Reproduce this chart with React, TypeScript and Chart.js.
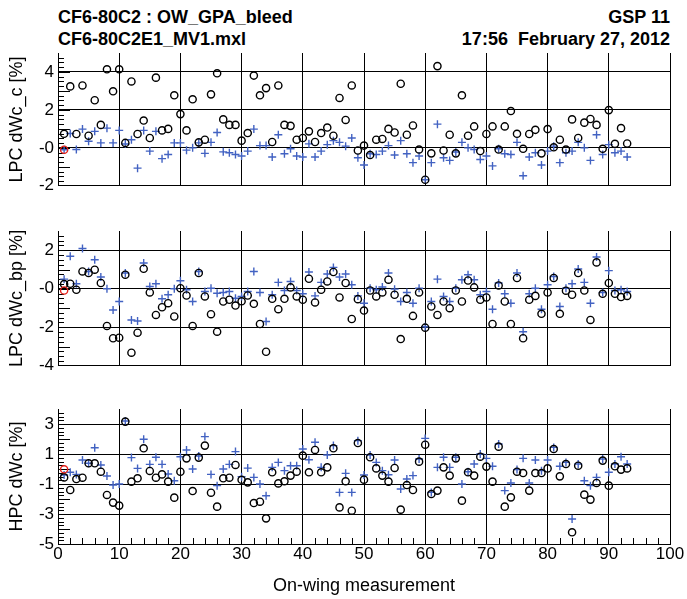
import React, { useEffect, useRef } from 'react';
import { Chart, registerables } from 'chart.js';

Chart.register(...registerables);

const FONT = '"Liberation Sans", Arial, Helvetica, sans-serif';

// ---- data (index i -> measurement i+1) ----
const lpcC_circles = [
  0.74, 3.24, 0.73, 3.29, 0.64, 2.51, 1.21, 4.14, 2.98, 4.14,
  0.26, 3.5, 0.73, 1.44, 0.52, 3.7, 0.92, 1.0, 2.77, 1.78,
  0.92, 2.56, 0.29, 0.43, 2.82, 3.93, 1.5, 1.21, 1.21, 0.38,
  0.78, 3.81, 2.77, 3.15, 0.31, 3.29, 1.21, 1.16, 0.43, 0.52,
  0.87, 0.31, 0.78, 1.07, 0.64, 2.63, 1.47, 3.29, -0.14, 0.12,
  -0.38, 0.43, 0.47, 1.0, 0.81, 3.38, 0.69, 1.18, -0.09, -1.68,
  -0.29, 4.31, -0.14, 0.69, -0.29, 2.77, 0.64, 1.13, -0.17, 0.73,
  1.13, -0.09, 1.13, 1.94, 0.74, -0.05, 0.73, 0.95, -0.29, 0.99,
  0.03, 0.43, -0.09, 1.5, 0.52, 1.33, 1.52, 1.21, -0.05, 1.99,
  0.21, 1.04, 0.23,
];
const lpcC_crosses = [
  -0.1, 0.76, -0.09, 0.99, 0.35, 0.87, 0.26, 1.04, 0.26, 0.92,
  0.2, 0.43, -1.07, 0.92, -0.17, 0.87, -0.57, -0.35, 0.26, 0.26,
  -0.12, 0.0, 0.26, -0.29, 0.29, 0.81, -0.21, -0.26, -0.35, -0.43,
  -0.17, 0.99, 0.12, 0.12, -0.48, 0.69, -0.31, -0.05, -0.43, -0.48,
  0.21, -0.48, -0.17, 0.17, 0.38, 0.29, 0.09, 0.52, -0.52, -0.9,
  -0.31, -0.35, -0.17, 0.12, -0.38, 0.38, -0.31, -0.78, -0.43, -1.68,
  -0.78, 1.25, -0.52, -0.66, -0.22, 0.29, 0.0, -0.09, -0.61, -0.43,
  -0.95, -0.05, -0.31, -0.35, 0.29, -1.47, -0.48, -0.26, -0.9, -0.17,
  0.09, -0.78, -0.26, -0.17, 0.29, 0.0, -0.66, 0.69, -0.35, 0.17,
  -0.26, -0.17, -0.48,
];
const lpcBp_circles = [
  0.24, 0.26, -0.05, 0.9, 0.82, 0.99, 0.3, -1.93, -2.57, -2.54,
  0.73, -3.32, -2.28, 1.04, -0.19, -1.36, -0.96, -0.75, -1.44, 0.03,
  -0.35, -1.93, 0.82, -0.4, -1.32, -2.23, -0.66, -0.57, -0.87, -0.65,
  -0.35, -0.78, -1.83, -3.27, -0.52, -1.06, -0.52, 0.07, -0.4, -0.57,
  0.52, -0.71, -0.05, 0.38, 0.87, -0.45, 0.3, -1.57, -0.54, -1.13,
  -0.09, -0.4, -0.19, 0.47, -0.31, -2.61, -0.52, -1.41, -0.19, -2.02,
  -0.92, -1.36, -0.66, -1.01, -0.09, -0.66, 0.43, 0.07, -0.57, -0.45,
  -1.83, 0.17, -0.66, -1.83, 0.56, -2.57, -0.57, -0.37, -1.3, -0.19,
  0.56, -1.3, -0.1, -0.31, 0.82, -0.09, -1.62, 1.37, -0.26, 0.3,
  -0.26, -0.43, -0.37,
];
const lpcBp_crosses = [
  0.5, 1.69, 0.26, 2.09, 0.9, 1.51, 0.61, 0.0, -1.1, -0.66,
  0.82, -1.62, -1.67, 1.34, 0.12, 0.26, -0.52, -0.31, 0.0, 0.42,
  -0.05, -0.66, 0.9, -0.14, 0.03, -0.23, -0.19, -0.14, -0.49, -0.4,
  -0.14, 0.9, -0.19, -1.7, -0.31, 0.33, -0.09, 0.38, -0.09, -0.26,
  0.87, -0.37, 0.33, 0.77, 1.11, 0.61, 0.77, 0.21, -0.37, -0.75,
  0.03, -0.05, 0.09, 0.82, -0.02, -0.66, -0.19, -0.75, 0.03, -1.97,
  -0.66, 0.5, -0.4, -0.66, 0.03, 0.47, 0.73, 0.47, -0.31, -0.14,
  -1.06, 0.3, -0.26, -0.75, 0.82, -2.23, -0.26, 0.03, -1.06, 0.21,
  0.64, -0.92, 0.03, 0.26, 1.03, 0.33, -0.75, 1.65, -0.19, 0.94,
  -0.09, -0.05, -0.14,
];
const hpc_circles = [
  -0.56, -1.4, -0.67, -0.58, 0.38, 0.38, -0.18, -1.73, -2.24, -2.44,
  3.16, -0.84, -0.62, 1.38, -0.13, -0.58, -0.36, -0.84, -1.91, -0.18,
  0.71, -1.47, 0.76, 1.56, -1.58, -2.51, -0.62, -0.58, 0.27, -0.72,
  -0.89, -2.27, -2.18, -3.29, -0.22, -0.96, -0.82, -0.44, -0.18, 0.89,
  -0.22, 1.27, -0.22, 0.11, 1.38, -2.56, -0.82, -2.78, 1.73, -0.71,
  0.78, 0.04, -0.44, -0.84, 0.07, -2.71, -1.07, -1.4, 0.49, 1.62,
  -1.67, -1.44, 0.11, -0.44, 0.71, -2.11, -0.22, -0.44, 0.82, 0.16,
  -0.84, 1.49, -2.51, -1.89, -0.18, -0.27, -1.44, -0.27, -0.27, 0.04,
  1.33, -0.49, 0.33, -4.22, 0.22, -1.71, -2.04, -0.93, 0.56, -1.11,
  0.18, -0.04, 0.04,
];
const hpc_crosses = [
  -0.4, -0.22, -0.36, 0.6, 0.38, 1.42, 0.27, -0.47, -1.07, -1.0,
  3.2, 0.76, 0.04, 1.98, 0.31, 0.78, 0.31, -0.33, -0.78, 0.82,
  1.27, 0.0, 0.87, 2.16, -0.36, -1.11, 0.0, 0.31, 1.16, -0.51,
  0.06, -0.56, -1.0, -1.78, 0.11, 0.44, -0.11, 0.22, 0.22, 1.33,
  0.62, 1.78, 0.11, 0.93, 1.56, -1.56, -0.29, -1.56, 1.89, -0.4,
  0.93, 0.44, -0.11, -0.38, 0.6, -1.33, -0.67, -0.44, 0.67, 2.04,
  -1.56, 0.11, 0.78, 0.11, 0.78, -1.0, -0.18, 0.33, 1.0, 0.71,
  0.18, 1.67, -1.44, -0.93, -0.04, 0.71, -0.93, 0.6, -0.11, 0.6,
  1.44, 0.18, 0.44, -3.33, 0.33, -0.78, -1.11, -0.56, 0.67, -0.22,
  0.33, 0.82, 0.33,
];
// reference (first) measurement, drawn in red
const refX = 1;
const lpcC_ref = -0.1;
const lpcBp_ref = -0.09;
const hpc_ref = -0.02;

const xTicks = [0, 10, 20, 30, 40, 50, 60, 70, 80, 90, 100];
const lpcC_yTicks = [-2, 0, 2, 4];
const lpcBp_yTicks = [-4, -2, 0, 2];
const hpc_yTicks = [-5, -3, -1, 1, 3];

const headerLeft1 = 'CF6-80C2 : OW_GPA_bleed';
const headerLeft2 = 'CF6-80C2E1_MV1.mxl';
const headerRight1 = 'GSP 11';
const headerRight2 = '17:56  February 27, 2012';
const xTitle = 'On-wing measurement';

type Panel = {
  title: string;
  circles: number[];
  crosses: number[];
  ref: number;
  yMin: number;
  yMax: number;
  yTicks: number[];
  top: number;
  height: number;
  padTop: number;
  padBottom: number;
  xAxisHeight: number;
  showX: boolean;
};

const panels: Panel[] = [
  { title: 'LPC dWc_c [%]', circles: lpcC_circles, crosses: lpcC_crosses, ref: lpcC_ref,
    yMin: -2, yMax: 5, yTicks: lpcC_yTicks, top: 0, height: 200, padTop: 53, padBottom: 12, xAxisHeight: 0, showX: false },
  { title: 'LPC dWc_bp [%]', circles: lpcBp_circles, crosses: lpcBp_crosses, ref: lpcBp_ref,
    yMin: -4, yMax: 3, yTicks: lpcBp_yTicks, top: 200, height: 180, padTop: 31, padBottom: 14, xAxisHeight: 0, showX: false },
  { title: 'HPC dWc [%]', circles: hpc_circles, crosses: hpc_crosses, ref: hpc_ref,
    yMin: -5, yMax: 4, yTicks: hpc_yTicks, top: 380, height: 219, padTop: 29, padBottom: 0, xAxisHeight: 55, showX: true },
];

const minorTicksPlugin = {
  id: 'rootMinorTicks',
  beforeDatasetsDraw(chart: any, _args: any, opts: any) {
    const { ctx, chartArea } = chart;
    const y = chart.scales.y;
    const x = chart.scales.x;
    ctx.save();
    ctx.strokeStyle = '#000';
    ctx.lineWidth = 1;
    ctx.beginPath();
    const step = 0.25;
    const n = Math.round((y.max - y.min) / step);
    for (let i = 1; i < n; i++) {
      const v = y.min + i * step;
      const py = Math.round(y.getPixelForValue(v)) + 0.5;
      const isInt = Math.abs(v - Math.round(v)) < 1e-6;
      const len = isInt ? 12 : 6;
      ctx.moveTo(chartArea.left, py);
      ctx.lineTo(chartArea.left + len, py);
    }
    if (opts && opts.xTicks) {
      for (let v = 2; v < 100; v += 2) {
        if (v % 10 === 0) continue;
        const px = Math.round(x.getPixelForValue(v)) + 0.5;
        ctx.moveTo(px, chartArea.bottom);
        ctx.lineTo(px, chartArea.bottom - 6);
      }
    }
    ctx.stroke();
    ctx.restore();
  },
};

function buildConfig(p: Panel): any {
  const pts = (arr: number[]) => arr.map((v, i) => ({ x: i + 1, y: v }));
  return {
    type: 'scatter',
    data: {
      datasets: [
        {
          label: 'reference',
          data: [{ x: refX, y: p.ref }],
          pointStyle: 'circle',
          pointRadius: 3.6,
          borderWidth: 1.4,
          borderColor: '#e8231c',
          backgroundColor: 'rgba(0,0,0,0)',
          order: 0,
        },
        {
          label: 'circles',
          data: pts(p.circles),
          pointStyle: 'circle',
          pointRadius: 3.6,
          borderWidth: 1.4,
          borderColor: '#000000',
          backgroundColor: 'rgba(0,0,0,0)',
          order: 1,
        },
        {
          label: 'crosses',
          data: pts(p.crosses),
          pointStyle: 'cross',
          pointRadius: 4,
          borderWidth: 1.4,
          borderColor: '#4262c2',
          backgroundColor: '#4262c2',
          order: 2,
        },
      ],
    },
    options: {
      animation: false,
      responsive: false,
      devicePixelRatio: 1,
      events: [],
      layout: { padding: { top: p.padTop, bottom: p.padBottom, left: 0, right: 17 } },
      plugins: {
        legend: { display: false },
        tooltip: { enabled: false },
        rootMinorTicks: { xTicks: p.showX },
      },
      scales: {
        x: {
          type: 'linear',
          min: 0,
          max: 100,
          afterBuildTicks: (s: any) => { s.ticks = xTicks.map((v) => ({ value: v })); },
          afterFit: (s: any) => { s.height = p.xAxisHeight; },
          grid: { color: '#000', lineWidth: 1, drawTicks: false },
          border: { display: true, color: '#000', width: 1 },
          ticks: {
            display: p.showX,
            padding: 0,
            autoSkip: false,
            maxRotation: 0,
            color: '#000',
            font: { family: FONT, size: 17 },
          },
          title: {
            display: p.showX,
            text: xTitle,
            color: '#000',
            font: { family: FONT, size: 18 },
            padding: { top: 0, bottom: 2 },
          },
        },
        y: {
          type: 'linear',
          min: p.yMin,
          max: p.yMax,
          afterBuildTicks: (s: any) => { s.ticks = p.yTicks.map((v) => ({ value: v })); },
          afterFit: (s: any) => { s.width = 58; },
          grid: { color: '#000', lineWidth: 1, drawTicks: false },
          border: { display: true, color: '#000', width: 1 },
          ticks: {
            padding: 4,
            color: '#000',
            font: { family: FONT, size: 17 },
            callback: (v: number) => (v === 0 ? '-0' : String(v)),
          },
          title: {
            display: true,
            text: p.title,
            color: '#000',
            font: { family: FONT, size: 18 },
            padding: { top: 6, bottom: 0 },
          },
        },
      },
    },
    plugins: [minorTicksPlugin],
  };
}

export default function App() {
  const refs = useRef<(HTMLCanvasElement | null)[]>([]);

  useEffect(() => {
    const charts = panels.map((p, i) => new Chart(refs.current[i] as HTMLCanvasElement, buildConfig(p)));
    return () => charts.forEach((c) => c.destroy());
  }, []);

  const headStyle: React.CSSProperties = {
    position: 'absolute',
    fontFamily: FONT,
    fontWeight: 'bold',
    fontSize: 18,
    lineHeight: '18px',
    whiteSpace: 'pre',
    color: '#000',
  };

  return (
    <div style={{ position: 'absolute', left: 0, top: 0, width: 687, height: 599, background: '#fff', overflow: 'hidden' }}>
      <div style={{ ...headStyle, left: 58, top: 8 }}>{headerLeft1}</div>
      <div style={{ ...headStyle, left: 58, top: 30 }}>{headerLeft2}</div>
      <div style={{ ...headStyle, right: 17, top: 8, textAlign: 'right' }}>{headerRight1}</div>
      <div style={{ ...headStyle, right: 17, top: 30, textAlign: 'right' }}>{headerRight2}</div>
      {panels.map((p, i) => (
        <canvas
          key={i}
          ref={(el) => { refs.current[i] = el; }}
          width={687}
          height={p.height}
          style={{ position: 'absolute', left: 0, top: p.top, width: 687, height: p.height, display: 'block' }}
        />
      ))}
    </div>
  );
}
